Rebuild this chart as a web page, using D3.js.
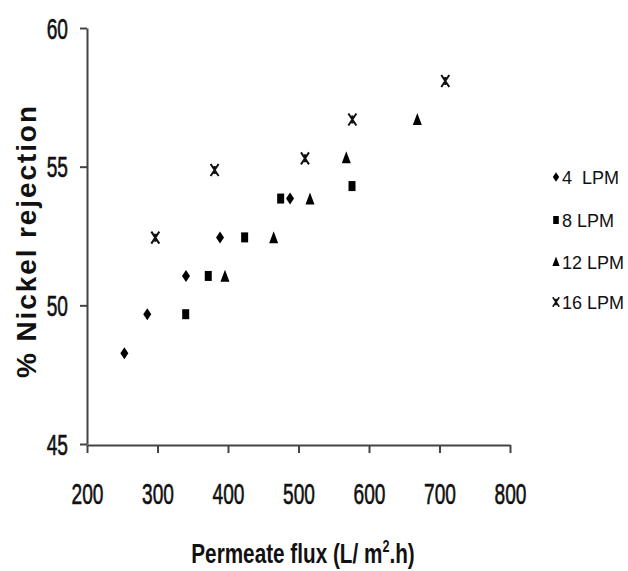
<!DOCTYPE html>
<html>
<head>
<meta charset="utf-8">
<script src="https://cdn.jsdelivr.net/npm/d3@7"></script>
<style>
  body { margin: 0; background: #fff; }
  text { font-family: "Liberation Sans", Arial, sans-serif; }
</style>
</head>
<body>
<div id="chart"></div>
<script>
// series: [flux, % rejection]
const lpm4 = [[253, 48.27], [285.5, 49.68], [340.4, 51.06], [388.7, 52.45], [488, 53.85]];
const lpm8 = [[340, 49.68], [372, 51.06], [423.6, 52.45], [474.7, 53.85], [575.9, 54.3]];
const lpm12 = [[395.7, 51.03], [464.8, 52.42], [516.3, 53.82], [567.8, 55.3], [668.5, 56.68]];
const lpm16 = [[296.9, 52.44], [381, 54.88], [509.2, 55.3], [576.4, 56.7], [708.2, 58.09]];

const seriesNames = ['4  LPM', '8 LPM', '12 LPM', '16 LPM'];
const xTicks = [200, 300, 400, 500, 600, 700, 800];
const yTicks = [45, 50, 55, 60];

const width = 628, height = 571;
const svg = d3.select('#chart').append('svg')
  .attr('width', width)
  .attr('height', height);

const x = d3.scaleLinear().domain([200, 800]).range([87, 510]);
const y = d3.scaleLinear().domain([45, 60]).range([444, 28]);

const axisColor = '#444';

// marker shapes
function diamond(g) {
  g.append('path').attr('d', 'M0,-6L4,0L0,6L-4,0Z').attr('fill', '#000');
}
function square(g) {
  g.append('rect').attr('x', -3.5).attr('y', -5).attr('width', 7).attr('height', 10).attr('fill', '#000');
}
function triangle(g) {
  g.append('path').attr('d', 'M0,-7L4.5,5L-4.5,5Z').attr('fill', '#000');
}
function star(g) {
  g.append('path').attr('d', 'M-4,-6L4,6M4,-6L-4,6M0,-4L0,4')
    .attr('stroke', '#111').attr('stroke-width', 2).attr('fill', 'none');
}
const shapes = [diamond, square, triangle, star];
const allSeries = [lpm4, lpm8, lpm12, lpm16];

// axes
const xAxis = svg.append('g')
  .attr('transform', 'translate(0,' + 445 + ')')
  .call(d3.axisBottom(x).tickValues(xTicks).tickSize(8).tickPadding(0).tickSizeOuter(0));
xAxis.selectAll('text')
  .attr('y', 0).attr('dy', 0)
  .attr('transform', 'translate(0,59) scale(0.66,1)')
  .attr('font-size', 29)
  .attr('fill', '#111')
  .attr('stroke', '#111')
  .attr('stroke-width', 0.6);

const yAxis = svg.append('g')
  .attr('transform', 'translate(87,0)')
  .call(d3.axisLeft(y).tickValues(yTicks).tickSize(7).tickSizeOuter(0));
yAxis.selectAll('text')
  .attr('x', 0).attr('dy', 0)
  .attr('transform', 'translate(-19,10) scale(0.66,1)')
  .attr('font-size', 29)
  .attr('fill', '#111')
  .attr('stroke', '#111')
  .attr('stroke-width', 0.6);

svg.selectAll('.domain, .tick line')
  .attr('stroke', axisColor)
  .attr('stroke-width', 2);

// points
allSeries.forEach((s, i) => {
  svg.append('g').selectAll('g')
    .data(s)
    .join('g')
    .attr('transform', d => 'translate(' + x(d[0]) + ',' + y(d[1]) + ')')
    .each(function() { shapes[i](d3.select(this)); });
});

// legend
const legendY = [177, 220, 262, 302];
seriesNames.forEach((name, i) => {
  const g = svg.append('g').attr('transform', 'translate(556,' + legendY[i] + ')');
  shapes[i](g.append('g').attr('transform', 'scale(0.8)'));
  g.append('text')
    .attr('x', 6)
    .attr('y', 7)
    .attr('font-size', 18)
    .attr('fill', '#111')
    .style('white-space', 'pre')
    .text(name);
});

// axis titles
svg.append('text')
  .attr('transform', 'translate(36,242) rotate(-90)')
  .attr('text-anchor', 'middle')
  .attr('font-size', 28)
  .attr('font-weight', 'bold')
  .attr('fill', '#111')
  .attr('textLength', 272)
  .attr('lengthAdjust', 'spacing')
  .text('% Nickel rejection');

const xt = svg.append('text')
  .attr('transform', 'translate(303,563) scale(0.74,1)')
  .attr('text-anchor', 'middle')
  .attr('font-size', 28)
  .attr('font-weight', 'bold')
  .attr('fill', '#111');
xt.append('tspan').text('Permeate flux (L/ m');
xt.append('tspan').attr('font-size', 17).attr('dy', -11).text('2');
xt.append('tspan').attr('dy', 11).text('.h)');
</script>
</body>
</html>
